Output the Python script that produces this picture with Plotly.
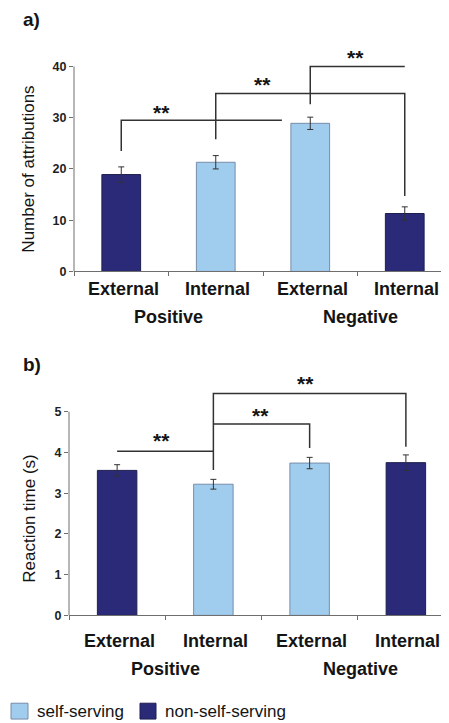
import plotly.graph_objects as go

# ---------------- data ----------------
categories = ["External", "Internal", "External", "Internal"]
valence = ["Positive", "Negative"]
self_serving = [False, True, True, False]
legend_names = ["self-serving", "non-self-serving"]

attrib_means = [18.9, 21.3, 28.9, 11.3]
attrib_err = [1.5, 1.3, 1.2, 1.3]

rt_means = [3.56, 3.22, 3.74, 3.75]
rt_err = [0.14, 0.12, 0.14, 0.19]

attrib_ticks = [0, 10, 20, 30, 40]
rt_ticks = [0, 1, 2, 3, 4, 5]

# significance brackets: list of (x, y) vertices in data units
attrib_brackets = [
    [(0, 23.5), (0, 29.5), (1.7, 29.5)],
    [(1, 25.8), (1, 34.7), (3, 34.7), (3, 14.7)],
    [(2, 32.6), (2, 40.0), (3, 40.0), (3, 40.0)],
]
attrib_stars = [(0.43, 31.0), (1.49, 36.5), (2.48, 41.8)]

rt_brackets = [
    [(0, 4.03), (1, 4.03)],
    [(1, 3.57), (1, 5.45), (3, 5.45), (3, 4.14)],
    [(1, 4.70), (2, 4.70), (2, 4.11)],
]
rt_stars = [(0.46, 4.3), (1.49, 4.9), (1.96, 5.7)]

# ---------------- style ----------------
W, H = 449, 723
DARK = "rgb(42,42,120)"
DARK_LINE = "rgb(30,30,80)"
LIGHT = "rgb(160,204,238)"
LIGHT_LINE = "rgb(120,140,170)"
AXIS = "rgb(110,110,110)"
FONT = "Liberation Sans, Arial, sans-serif"

# panel geometry in pixels
panels = [
    dict(xl=66, xr=444, y0=266, yt=59, tmax=40, rmax=43.2),
    dict(xl=61, xr=446, y0=613.3, yt=407.7, tmax=5, rmax=5.9),
]

fig = go.Figure()


def py(pix):
    return (H - pix) / H


for k, (p, means, errs, ticks) in enumerate(
    [(panels[0], attrib_means, attrib_err, attrib_ticks),
     (panels[1], rt_means, rt_err, rt_ticks)]
):
    suf = "" if k == 0 else str(k + 1)
    xa, ya = "x" + suf, "y" + suf
    ppu = (p["y0"] - p["yt"]) / p["tmax"]
    ytop_pix = p["y0"] - p["rmax"] * ppu
    p["dom_y"] = [py(p["y0"]), py(ytop_pix)]
    p["dom_x"] = [p["xl"] / W, p["xr"] / W]

    for flag, name, col, lcol in [(True, legend_names[0], LIGHT, LIGHT_LINE),
                                  (False, legend_names[1], DARK, DARK_LINE)]:
        idx = [i for i, s in enumerate(self_serving) if s == flag]
        fig.add_trace(go.Bar(
            x=idx, y=[means[i] for i in idx],
            error_y=dict(type="data", array=[errs[i] for i in idx],
                         color="rgb(50,50,50)", thickness=1, width=3),
            width=0.41, name=name, legendgroup=name, showlegend=False,
            marker=dict(color=col, line=dict(color=lcol, width=1)),
            xaxis=xa, yaxis=ya,
        ))

    layout_x = dict(domain=p["dom_x"], range=[-0.5, 3.5], showline=True,
                    linecolor=AXIS, linewidth=1, ticks="outside", ticklen=4,
                    tickcolor=AXIS, tickvals=[-0.5, 0.5, 1.5, 2.5, 3.5],
                    showticklabels=False, showgrid=False, zeroline=False,
                    anchor=ya, fixedrange=True)
    layout_y = dict(domain=p["dom_y"], range=[0, p["rmax"]], showline=False,
                    ticks="outside", ticklen=4, tickcolor=AXIS,
                    tickvals=ticks, ticktext=[str(t) for t in ticks],
                    tickfont=dict(family=FONT, size=12.5, color="rgb(30,30,30)", weight="bold"),
                    showgrid=False, zeroline=False, anchor=xa, fixedrange=True)
    fig.update_layout(**{"xaxis" + suf: layout_x, "yaxis" + suf: layout_y})

    # y axis line only up to top tick
    def yv(v, p=p):
        return p["dom_y"][0] + v / p["rmax"] * (p["dom_y"][1] - p["dom_y"][0])

    fig.add_shape(type="line", xref="paper", yref="paper",
                  x0=p["dom_x"][0], x1=p["dom_x"][0], y0=yv(0), y1=yv(p["tmax"]),
                  line=dict(color=AXIS, width=1))

    brackets = attrib_brackets if k == 0 else rt_brackets
    stars = attrib_stars if k == 0 else rt_stars
    for br in brackets:
        path = "M " + " L ".join(f"{x},{y}" for x, y in br)
        fig.add_shape(type="path", path=path, xref=xa, yref=ya,
                      line=dict(color="rgb(50,50,50)", width=1.5))
    for sx, sy in stars:
        fig.add_annotation(x=sx, y=sy, xref=xa, yref=ya, text="<b>**</b>",
                           showarrow=False, yanchor="middle",
                           font=dict(family=FONT, size=21, color="rgb(20,20,20)"))

    # category labels
    cat_y = 284 if k == 0 else 639
    val_y = 312 if k == 0 else 667
    for i, c in enumerate(categories):
        fig.add_annotation(x=i + 0.02, y=py(cat_y), xref=xa, yref="paper",
                           text=f"<b>{c}</b>", showarrow=False, yanchor="middle",
                           font=dict(family=FONT, size=18, color="rgb(20,20,20)"))
    for j, v in enumerate(valence):
        fig.add_annotation(x=0.5 + 2 * j + 0.03 * j, y=py(val_y), xref=xa, yref="paper",
                           text=f"<b>{v}</b>", showarrow=False, yanchor="middle",
                           font=dict(family=FONT, size=18, color="rgb(20,20,20)"))

    # y title
    title = "Number of attributions" if k == 0 else "Reaction time (s)"
    ty = 162.5 if k == 0 else 516
    fig.add_annotation(x=20.7 / W, y=py(ty), xref="paper", yref="paper",
                       text=title, textangle=-90, showarrow=False,
                       xanchor="center", yanchor="middle",
                       font=dict(family=FONT, size=17, color="rgb(20,20,20)"))

    # panel letter
    fig.add_annotation(x=13 / W, y=py(12 if k == 0 else 360), xref="paper", yref="paper",
                       text="<b>a)</b>" if k == 0 else "<b>b)</b>", showarrow=False,
                       xanchor="left", yanchor="middle",
                       font=dict(family=FONT, size=19, color="rgb(20,20,20)"))

# legend (drawn as key boxes + labels)
for (bx0, bx1, tx), name, col, lcol in [((3, 20, 27), legend_names[0], LIGHT, LIGHT_LINE),
                                        ((132, 148, 155), legend_names[1], DARK, DARK_LINE)]:
    fig.add_shape(type="rect", xref="paper", yref="paper",
                  x0=bx0 / W, x1=bx1 / W, y0=py(718), y1=py(702),
                  fillcolor=col, line=dict(color=lcol, width=1))
    fig.add_annotation(x=tx / W, y=py(710), xref="paper", yref="paper", text=name,
                       showarrow=False, xanchor="left", yanchor="middle",
                       font=dict(family=FONT, size=17, color="rgb(20,20,20)"))

fig.update_layout(
    width=W, height=H,
    margin=dict(l=0, r=0, t=0, b=0),
    paper_bgcolor="white", plot_bgcolor="white",
    barmode="overlay",
    showlegend=False,
    font=dict(family=FONT),
)

fig.write_html("out.html")
